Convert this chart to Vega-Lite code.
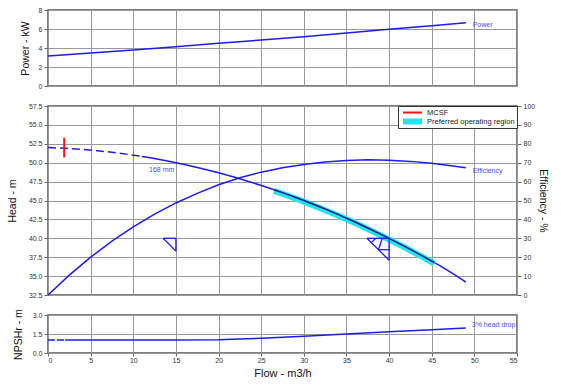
{
  "$schema": "https://vega.github.io/schema/vega-lite/v6.json",
  "padding": {"left": 6, "top": 5, "right": 5, "bottom": 5},
  "background": "white",
  "bounds": "flush",
  "spacing": 20,
  "resolve": {"scale": {"color": "independent", "strokeWidth": "independent"}, "legend": {"color": "independent", "strokeWidth": "independent"}},
  "config": {
    "font": "Liberation Sans",
    "view": {"stroke": "#555", "strokeWidth": 1.5},
    "axis": {"gridColor": "#999", "gridWidth": 1, "gridOpacity": 1, "domain": false, "labelFontSize": 7, "labelColor": "#333", "tickColor": "#666", "tickSize": 4, "labelPadding": 2, "labelOverlap": false, "tickCount": 30, "titleFontSize": 10.5, "titleFontWeight": "normal", "titleColor": "#111"}
  },
  "datasets": {
    "power": [
      {"flow": 0, "kw": 3.16}, {"flow": 5, "kw": 3.47}, {"flow": 10, "kw": 3.79}, {"flow": 15, "kw": 4.13},
      {"flow": 20, "kw": 4.49}, {"flow": 25, "kw": 4.84}, {"flow": 30, "kw": 5.19}, {"flow": 35, "kw": 5.57},
      {"flow": 40, "kw": 5.97}, {"flow": 45, "kw": 6.33}, {"flow": 49, "kw": 6.66}
    ],
    "power_label": [{"flow": 49.8, "kw": 6.4, "label": "Power"}],
    "head_dash": [
      {"flow": 0, "head": 52.0}, {"flow": 2, "head": 51.91}, {"flow": 4, "head": 51.76}, {"flow": 6, "head": 51.56},
      {"flow": 8, "head": 51.31}, {"flow": 10, "head": 51.0}, {"flow": 11, "head": 50.83}
    ],
    "head": [
      {"flow": 11, "head": 50.83}, {"flow": 12, "head": 50.64}, {"flow": 14, "head": 50.23}, {"flow": 16, "head": 49.76},
      {"flow": 18, "head": 49.24}, {"flow": 20, "head": 48.67}, {"flow": 22, "head": 48.04}, {"flow": 24, "head": 47.36},
      {"flow": 26, "head": 46.63}, {"flow": 28, "head": 45.84}, {"flow": 30, "head": 45.0}, {"flow": 32, "head": 44.1},
      {"flow": 34, "head": 43.16}, {"flow": 36, "head": 42.16}, {"flow": 38, "head": 41.1}, {"flow": 40, "head": 40.0},
      {"flow": 42, "head": 38.84}, {"flow": 44, "head": 37.62}, {"flow": 46, "head": 36.36}, {"flow": 48, "head": 34.95},
      {"flow": 49, "head": 34.2}
    ],
    "por": [
      {"flow": 26.5, "head": 46.43, "band": 46.28, "item": "Preferred operating region"},
      {"flow": 28, "head": 45.84, "band": 45.69, "item": "Preferred operating region"},
      {"flow": 30, "head": 45.0, "band": 44.85, "item": "Preferred operating region"},
      {"flow": 32, "head": 44.1, "band": 43.95, "item": "Preferred operating region"},
      {"flow": 34, "head": 43.16, "band": 43.01, "item": "Preferred operating region"},
      {"flow": 36, "head": 42.16, "band": 42.01, "item": "Preferred operating region"},
      {"flow": 38, "head": 41.1, "band": 40.95, "item": "Preferred operating region"},
      {"flow": 40, "head": 40.0, "band": 39.85, "item": "Preferred operating region"},
      {"flow": 42, "head": 38.84, "band": 38.69, "item": "Preferred operating region"},
      {"flow": 44, "head": 37.62, "band": 37.47, "item": "Preferred operating region"},
      {"flow": 45.3, "head": 36.8, "band": 36.65, "item": "Preferred operating region"}
    ],
    "mcsf": [{"flow": 1.9, "lo": 50.7, "hi": 53.3, "item": "MCSF"}],
    "tri": [
      {"x1": 13.5, "y1": 40.0, "x2": 15.0, "y2": 40.0},
      {"x1": 15.0, "y1": 40.0, "x2": 15.0, "y2": 38.3},
      {"x1": 13.5, "y1": 40.0, "x2": 15.0, "y2": 38.3},
      {"x1": 37.4, "y1": 40.0, "x2": 40.0, "y2": 40.0},
      {"x1": 40.0, "y1": 40.0, "x2": 40.0, "y2": 37.1},
      {"x1": 37.4, "y1": 40.0, "x2": 40.0, "y2": 37.1},
      {"x1": 38.45, "y1": 40.0, "x2": 37.9, "y2": 39.43},
      {"x1": 39.2, "y1": 40.0, "x2": 38.75, "y2": 38.49},
      {"x1": 38.75, "y1": 38.49, "x2": 40.0, "y2": 38.49}
    ],
    "mid_labels": [
      {"flow": 11.85, "head": 49.0, "label": "168 mm"},
      {"flow": 49.8, "head": 48.9, "label": "Efficiency"}
    ],
    "eff": [
      {"flow": 0, "eff": 0}, {"flow": 2.5, "eff": 10.5}, {"flow": 5, "eff": 20}, {"flow": 7.5, "eff": 28.5},
      {"flow": 10, "eff": 36}, {"flow": 12.5, "eff": 42.8}, {"flow": 15, "eff": 48.7}, {"flow": 17.5, "eff": 53.8},
      {"flow": 20, "eff": 58.3}, {"flow": 22.5, "eff": 62.0}, {"flow": 25, "eff": 65.0}, {"flow": 27.5, "eff": 67.3},
      {"flow": 30, "eff": 69.1}, {"flow": 32.5, "eff": 70.4}, {"flow": 35, "eff": 71.2}, {"flow": 37.5, "eff": 71.5},
      {"flow": 40, "eff": 71.3}, {"flow": 42.5, "eff": 70.7}, {"flow": 45, "eff": 69.7}, {"flow": 47.5, "eff": 68.3},
      {"flow": 49, "eff": 67.3}
    ],
    "npsh_dash": [{"flow": 0, "npsh": 1.02}, {"flow": 2, "npsh": 1.02}],
    "npsh": [
      {"flow": 2, "npsh": 1.02}, {"flow": 5, "npsh": 1.02}, {"flow": 10, "npsh": 1.02}, {"flow": 15, "npsh": 1.03},
      {"flow": 20, "npsh": 1.05}, {"flow": 22.5, "npsh": 1.1}, {"flow": 25, "npsh": 1.17}, {"flow": 27.5, "npsh": 1.25},
      {"flow": 30, "npsh": 1.33}, {"flow": 35, "npsh": 1.5}, {"flow": 40, "npsh": 1.67}, {"flow": 45, "npsh": 1.83},
      {"flow": 49, "npsh": 1.97}
    ],
    "npsh_label": [{"flow": 49.7, "npsh": 2.2, "label": "3% head drop"}]
  },
  "vconcat": [
    {
      "width": 469, "height": 76,
      "layer": [
        {
          "data": {"name": "power"},
          "mark": {"type": "line", "color": "#1c1cf0", "strokeWidth": 1.5},
          "encoding": {
            "x": {"field": "flow", "type": "quantitative", "scale": {"domain": [0, 55], "nice": false},
                  "axis": {"values": [0, 5, 10, 15, 20, 25, 30, 35, 40, 45, 50, 55], "tickCount": 30, "labels": false, "ticks": false, "title": null}},
            "y": {"field": "kw", "type": "quantitative", "scale": {"domain": [0, 8], "nice": false},
                  "axis": {"values": [0, 2, 4, 6, 8], "tickCount": 30, "format": "d", "title": "Power - kW", "titlePadding": 8}}
          }
        },
        {
          "data": {"name": "power_label"},
          "mark": {"type": "text", "align": "left", "baseline": "middle", "fontSize": 7, "color": "#4b4bff"},
          "encoding": {
            "x": {"field": "flow", "type": "quantitative"},
            "y": {"field": "kw", "type": "quantitative"},
            "text": {"field": "label"}
          }
        }
      ]
    },
    {
      "width": 469, "height": 189,
      "resolve": {"scale": {"y": "independent"}},
      "layer": [
        {
          "layer": [
            {
              "data": {"name": "head_dash"},
              "mark": {"type": "line", "color": "#1c1cf0", "strokeWidth": 1.5, "strokeDash": [8, 4]},
              "encoding": {
                "x": {"field": "flow", "type": "quantitative", "scale": {"domain": [0, 55], "nice": false},
                      "axis": {"values": [0, 5, 10, 15, 20, 25, 30, 35, 40, 45, 50, 55], "tickCount": 30, "labels": false, "ticks": false, "title": null}},
                "y": {"field": "head", "type": "quantitative", "scale": {"domain": [32.5, 57.5], "nice": false, "zero": false},
                      "axis": {"values": [32.5, 35, 37.5, 40, 42.5, 45, 47.5, 50, 52.5, 55, 57.5], "tickCount": 30, "format": ".1f", "title": "Head - m", "titlePadding": 11}}
              }
            },
            {
              "data": {"name": "head"},
              "mark": {"type": "line", "color": "#1c1cf0", "strokeWidth": 1.5},
              "encoding": {
                "x": {"field": "flow", "type": "quantitative"},
                "y": {"field": "head", "type": "quantitative"}
              }
            },
            {
              "data": {"name": "por"},
              "mark": {"type": "line"},
              "encoding": {
                "x": {"field": "flow", "type": "quantitative"},
                "y": {"field": "band", "type": "quantitative"},
                "color": {"field": "item", "type": "nominal",
                          "scale": {"domain": ["MCSF", "Preferred operating region"], "range": ["#ff1010", "#22e5f0"]},
                          "legend": {"title": null, "orient": "top-right", "offset": 0, "symbolType": "stroke", "symbolSize": 361, "clipHeight": 9, "labelFontSize": 7.5, "labelColor": "#222", "strokeColor": "#333", "fillColor": "white", "padding": 2, "rowPadding": 0, "labelOffset": 2}},
                "strokeWidth": {"field": "item", "type": "ordinal",
                          "scale": {"domain": ["MCSF", "Preferred operating region"], "range": [2, 6]},
                          "legend": {"title": null, "orient": "top-right", "offset": 0, "symbolType": "stroke", "symbolSize": 361, "clipHeight": 9, "labelFontSize": 7.5, "labelColor": "#222", "strokeColor": "#333", "fillColor": "white", "padding": 2, "rowPadding": 0, "labelOffset": 2}}
              }
            },
            {
              "data": {"name": "por"},
              "mark": {"type": "line", "color": "#14148c", "strokeWidth": 1.5},
              "encoding": {
                "x": {"field": "flow", "type": "quantitative"},
                "y": {"field": "head", "type": "quantitative"}
              }
            },
            {
              "data": {"name": "mcsf"},
              "mark": {"type": "rule"},
              "encoding": {
                "x": {"field": "flow", "type": "quantitative"},
                "y": {"field": "lo", "type": "quantitative"},
                "y2": {"field": "hi"},
                "color": {"field": "item", "type": "nominal"},
                "strokeWidth": {"field": "item", "type": "ordinal"}
              }
            },
            {
              "data": {"name": "tri"},
              "mark": {"type": "rule", "color": "#1c1cf0", "strokeWidth": 1.3},
              "encoding": {
                "x": {"field": "x1", "type": "quantitative"},
                "x2": {"field": "x2"},
                "y": {"field": "y1", "type": "quantitative"},
                "y2": {"field": "y2"}
              }
            },
            {
              "data": {"name": "mid_labels"},
              "mark": {"type": "text", "align": "left", "baseline": "middle", "fontSize": 7, "color": "#4b4bff"},
              "encoding": {
                "x": {"field": "flow", "type": "quantitative"},
                "y": {"field": "head", "type": "quantitative"},
                "text": {"field": "label"}
              }
            }
          ]
        },
        {
          "data": {"name": "eff"},
          "mark": {"type": "line", "color": "#1c1cf0", "strokeWidth": 1.5},
          "encoding": {
            "x": {"field": "flow", "type": "quantitative"},
            "y": {"field": "eff", "type": "quantitative", "scale": {"domain": [0, 100], "nice": false},
                  "axis": {"orient": "right", "values": [0, 10, 20, 30, 40, 50, 60, 70, 80, 90, 100], "tickCount": 30, "grid": false, "title": "Efficiency - %", "titlePadding": 3}}
          }
        }
      ]
    },
    {
      "width": 469, "height": 38,
      "layer": [
        {
          "data": {"name": "npsh_dash"},
          "mark": {"type": "line", "color": "#1c1cf0", "strokeWidth": 1.5, "strokeDash": [7, 2]},
          "encoding": {
            "x": {"field": "flow", "type": "quantitative", "scale": {"domain": [0, 55], "nice": false},
                  "axis": {"values": [0, 5, 10, 15, 20, 25, 30, 35, 40, 45, 50, 55], "tickCount": 30, "title": "Flow - m3/h", "titleFontSize": 11, "tickSize": 3, "labelPadding": 0, "titlePadding": 4}},
            "y": {"field": "npsh", "type": "quantitative", "scale": {"domain": [0, 3], "nice": false},
                  "axis": {"values": [0, 1.5, 3], "tickCount": 30, "format": ".1f", "title": "NPSHr - m", "titlePadding": 9}}
          }
        },
        {
          "data": {"name": "npsh"},
          "mark": {"type": "line", "color": "#1c1cf0", "strokeWidth": 1.5},
          "encoding": {
            "x": {"field": "flow", "type": "quantitative"},
            "y": {"field": "npsh", "type": "quantitative"}
          }
        },
        {
          "data": {"name": "npsh_label"},
          "mark": {"type": "text", "align": "left", "baseline": "middle", "fontSize": 7, "color": "#4b4bff"},
          "encoding": {
            "x": {"field": "flow", "type": "quantitative"},
            "y": {"field": "npsh", "type": "quantitative"},
            "text": {"field": "label"}
          }
        }
      ]
    }
  ]
}
